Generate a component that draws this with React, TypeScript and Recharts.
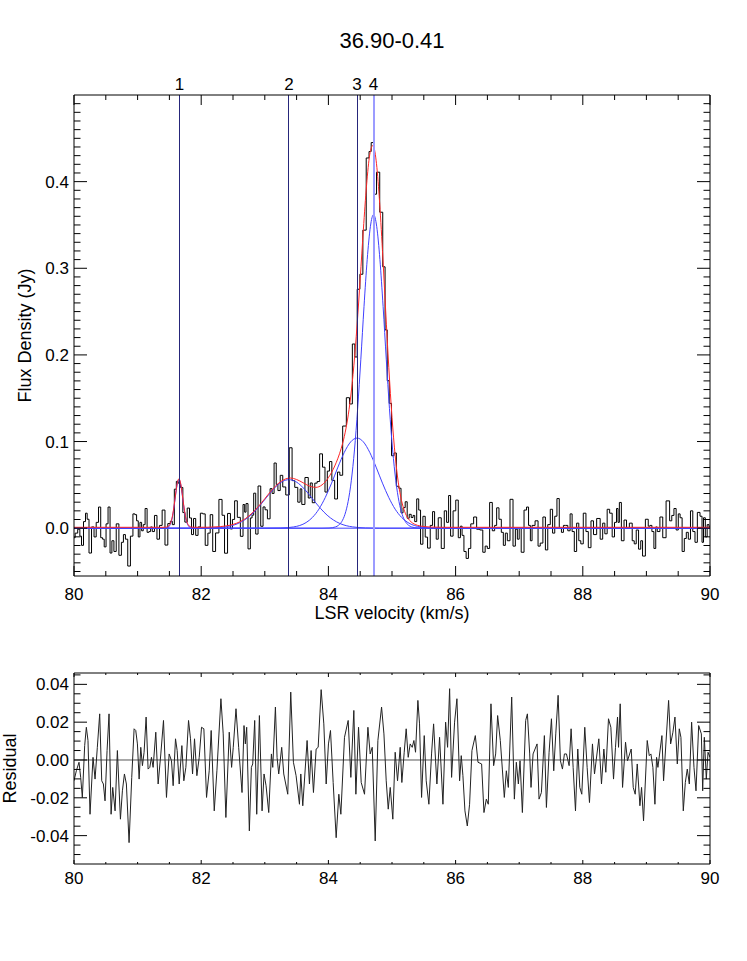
import { Line, LineChart, ReferenceLine, XAxis, YAxis } from "recharts";

const FONT = "'Liberation Sans', Arial, Helvetica, sans-serif";

// channel velocities (km/s), shared by the spectrum and the residual
const chanVel = [
  80.0, 80.037, 80.079, 80.105, 80.131, 80.168, 80.194, 80.22,
  80.252, 80.299, 80.331, 80.367, 80.404, 80.436, 80.462, 80.488,
  80.52, 80.551, 80.583, 80.609, 80.646, 80.682, 80.73, 80.761,
  80.793, 80.824, 80.866, 80.908, 80.945, 80.971, 80.997, 81.024,
  81.05, 81.076, 81.102, 81.134, 81.165, 81.192, 81.218, 81.244,
  81.286, 81.323, 81.365, 81.407, 81.454, 81.496, 81.533, 81.559,
  81.596, 81.622, 81.654, 81.696, 81.727, 81.759, 81.801, 81.832,
  81.864, 81.895, 81.932, 81.969, 82.005, 82.042, 82.084, 82.126,
  82.157, 82.205, 82.247, 82.31, 82.346, 82.388, 82.441, 82.478,
  82.504, 82.547, 82.589, 82.642, 82.673, 82.694, 82.715, 82.757,
  82.789, 82.81, 82.841, 82.873, 82.915, 82.957, 82.988, 83.02,
  83.062, 83.104, 83.125, 83.167, 83.193, 83.219, 83.266, 83.298,
  83.361, 83.408, 83.45, 83.492, 83.545, 83.566, 83.597, 83.665,
  83.702, 83.728, 83.765, 83.807, 83.839, 83.886, 83.928, 83.965,
  84.001, 84.033, 84.075, 84.122, 84.164, 84.196, 84.253, 84.311,
  84.353, 84.4, 84.432, 84.474, 84.516, 84.568, 84.621, 84.657,
  84.689, 84.736, 84.778, 84.836, 84.873, 84.909, 84.941, 84.972,
  85.013, 85.05, 85.087, 85.129, 85.155, 85.192, 85.223, 85.255,
  85.286, 85.318, 85.344, 85.37, 85.407, 85.433, 85.465, 85.507,
  85.538, 85.58, 85.622, 85.654, 85.685, 85.706, 85.748, 85.801,
  85.843, 85.874, 85.906, 85.937, 85.984, 86.021, 86.063, 86.089,
  86.115, 86.147, 86.184, 86.22, 86.257, 86.31, 86.352, 86.409,
  86.446, 86.483, 86.514, 86.556, 86.598, 86.63, 86.661, 86.703,
  86.735, 86.766, 86.798, 86.829, 86.882, 86.924, 86.955, 86.987,
  87.013, 87.05, 87.102, 87.129, 87.165, 87.186, 87.218, 87.281,
  87.312, 87.349, 87.396, 87.428, 87.47, 87.507, 87.543, 87.575,
  87.612, 87.648, 87.68, 87.711, 87.743, 87.785, 87.816, 87.848,
  87.885, 87.921, 87.953, 87.984, 88.031, 88.068, 88.105, 88.152,
  88.184, 88.252, 88.294, 88.331, 88.362, 88.404, 88.441, 88.483,
  88.514, 88.546, 88.562, 88.588, 88.625, 88.672, 88.703, 88.761,
  88.793, 88.824, 88.856, 88.898, 88.924, 88.955, 89.013, 89.045,
  89.071, 89.102, 89.134, 89.16, 89.181, 89.244, 89.27, 89.349,
  89.381, 89.417, 89.449, 89.486, 89.517, 89.543, 89.58, 89.612,
  89.643, 89.675, 89.711, 89.748, 89.78, 89.822, 89.864, 89.885,
  89.911, 89.942, 89.969, 90.0,
];

// observed flux density (Jy)
const specFlux = [
  -0.011, -0.0057, -0.0012, -0.0092, -0.0198, 0.0076, 0.0173, 0.0103,
  -0.0287, 0.0014, -0.0101, 0.0067, 0.0244, -0.011, -0.0127, -0.0216,
  0.005, 0.0244, -0.0287, -0.0145, -0.0269, 0.005, -0.0313, -0.0163,
  -0.0074, -0.0127, -0.0437, -0.0092, 0.0165, 0.0156, 0.0085, -0.0101,
  0.0067, -0.003, 0.0041, 0.0227, -0.0048, -0.0039, 0.0014, -0.0039,
  0.0147, -0.0127, 0.0032, 0.0209, -0.0195, 0.0053, 0.008, 0.0041,
  0.045, 0.054, 0.052, 0.047, 0.018, 0.007, 0.0232, 0.0118,
  -0.0074, 0.0112, -0.0083, 0.0014, 0.0173, 0.0165, -0.0198, -0.0057,
  0.0156, -0.0269, -0.0055, 0.0332, 0.0149, -0.0289, 0.017, -0.0009,
  0.0101, 0.0316, 0.0125, -0.0094, 0.0273, 0.0185, 0.0284, -0.0239,
  0.0118, 0.015, 0.0404, -0.0068, 0.0487, 0.0022, 0.0245, 0.0212,
  0.0108, 0.0456, 0.0401, 0.0752, 0.0505, 0.0434, 0.061, 0.0476,
  0.0383, 0.0928, 0.0549, 0.0471, 0.03, 0.0454, 0.0274, 0.0585,
  0.0348, 0.0522, 0.0294, 0.052, 0.0539, 0.0858, 0.0704, 0.0417,
  0.0659, 0.0769, 0.0552, 0.0337, 0.0647, 0.0611, 0.1179, 0.1506,
  0.1434, 0.2126, 0.1976, 0.2758, 0.2931, 0.344, 0.4273, 0.4348,
  0.4451, 0.3855, 0.4109, 0.3647, 0.3017, 0.2289, 0.1702, 0.1441,
  0.0836, 0.0868, 0.0484, 0.0461, 0.0177, 0.0237, 0.0305, 0.0115,
  0.016, 0.0123, 0.0147, 0.0076, 0.0338, 0.0209, -0.0185, 0.0137,
  -0.0103, -0.023, 0.0032, 0.0191, -0.0004, -0.0127, 0.012, -0.0234,
  0.02, 0.0067, 0.0377, -0.0092, 0.02, 0.0324, -0.011, 0.0023,
  -0.0083, -0.0269, -0.0349, -0.0234, 0.005, 0.0129, -0.0012, -0.0021,
  -0.0278, -0.0207, -0.0234, 0.0297, -0.003, 0.0032, 0.0235, 0.0103,
  -0.0048, -0.0198, -0.0057, -0.0145, 0.0333, -0.0207, -0.0012, -0.0127,
  -0.0004, -0.0278, 0.0209, 0.0244, 0.0032, -0.0145, 0.0032, 0.0085,
  -0.0207, -0.0172, 0.0129, -0.0251, 0.0041, 0.0218, -0.0057, 0.0138,
  0.0342, -0.0004, -0.0048, 0.0032, 0.0032, -0.003, 0.0165, -0.0039,
  -0.0269, 0.0058, -0.0145, -0.0181, 0.0173, -0.0039, -0.0225, 0.0085,
  -0.0074, 0.0112, -0.0127, 0.0058, -0.0065, 0.0218, 0.0173, -0.0101,
  0.0067, 0.0227, 0.0067, 0.0297, -0.0145, 0.0094, -0.0004, 0.0058,
  -0.0145, -0.0181, -0.0021, -0.0242, -0.0145, -0.0322, 0.0103, 0.0023,
  0.0032, -0.0039, -0.0234, 0.0014, -0.0039, 0.0129, -0.011, 0.0315,
  0.0085, 0.0147, 0.0227, -0.0021, 0.0165, 0.012, -0.0269, -0.0119,
  -0.0048, -0.0127, 0.02, -0.0039, -0.0163, 0.0182, 0.0138, -0.0163,
  0.012, -0.0101, 0.0041, 0.0014,
];

// residual after subtracting the fit (Jy)
const residFlux = [
  -0.011, -0.0057, -0.0012, -0.0092, -0.0198, 0.0076, 0.0173, 0.0103,
  -0.0287, 0.0014, -0.0101, 0.0067, 0.0244, -0.011, -0.0127, -0.0216,
  0.005, 0.0244, -0.0287, -0.0145, -0.0269, 0.005, -0.0313, -0.0163,
  -0.0074, -0.0127, -0.0437, -0.0092, 0.0165, 0.0156, 0.0085, -0.0101,
  0.0067, -0.003, 0.0041, 0.0227, -0.0048, -0.0039, 0.0014, -0.0039,
  0.0147, -0.0127, 0.0032, 0.0209, -0.0198, 0.0032, -0.0004, -0.0136,
  0.0112, 0.005, -0.0127, 0.0076, -0.011, -0.0039, 0.0209, 0.0112,
  -0.0074, 0.0112, -0.0083, 0.0014, 0.0173, 0.0165, -0.0198, -0.0057,
  0.0156, -0.0269, -0.0057, 0.0324, 0.0138, -0.0304, 0.0147, -0.0039,
  0.0067, 0.0271, 0.0067, -0.0172, 0.0182, 0.0085, 0.0173, -0.0375,
  -0.0039, -0.0021, 0.0209, -0.0287, 0.0235, -0.0269, -0.0074, -0.0136,
  -0.0278, 0.0032, -0.0039, 0.028, 0.0014, -0.0074, 0.0067, -0.0074,
  -0.0181, 0.0359, -0.0012, -0.0083, -0.0234, -0.0074, -0.0242, 0.0103,
  -0.0127, 0.005, -0.0172, 0.0058, 0.0067, 0.0372, 0.0191, -0.0127,
  0.0085, 0.0156, -0.0119, -0.0411, -0.0181, -0.0287, 0.012, 0.0209,
  -0.0092, 0.0262, -0.0181, 0.0173, -0.0119, -0.0181, 0.0173, 0.0032,
  0.0067, -0.0428, 0.0103, 0.028, 0.0138, -0.011, -0.026, -0.0145,
  -0.0313, 0.0041, -0.011, 0.0067, -0.0119, 0.0041, 0.0165, 0.0014,
  0.0085, 0.0067, 0.0103, 0.0041, 0.0315, 0.0191, -0.0198, 0.0129,
  -0.011, -0.0234, 0.0032, 0.0191, -0.0004, -0.0127, 0.012, -0.0234,
  0.02, 0.0067, 0.0377, -0.0092, 0.02, 0.0324, -0.011, 0.0023,
  -0.0083, -0.0269, -0.0349, -0.0234, 0.005, 0.0129, -0.0012, -0.0021,
  -0.0278, -0.0207, -0.0234, 0.0297, -0.003, 0.0032, 0.0235, 0.0103,
  -0.0048, -0.0198, -0.0057, -0.0145, 0.0333, -0.0207, -0.0012, -0.0127,
  -0.0004, -0.0278, 0.0209, 0.0244, 0.0032, -0.0145, 0.0032, 0.0085,
  -0.0207, -0.0172, 0.0129, -0.0251, 0.0041, 0.0218, -0.0057, 0.0138,
  0.0342, -0.0004, -0.0048, 0.0032, 0.0032, -0.003, 0.0165, -0.0039,
  -0.0269, 0.0058, -0.0145, -0.0181, 0.0173, -0.0039, -0.0225, 0.0085,
  -0.0074, 0.0112, -0.0127, 0.0058, -0.0065, 0.0218, 0.0173, -0.0101,
  0.0067, 0.0227, 0.0067, 0.0297, -0.0145, 0.0094, -0.0004, 0.0058,
  -0.0145, -0.0181, -0.0021, -0.0242, -0.0145, -0.0322, 0.0103, 0.0023,
  0.0032, -0.0039, -0.0234, 0.0014, -0.0039, 0.0129, -0.011, 0.0315,
  0.0085, 0.0147, 0.0227, -0.0021, 0.0165, 0.012, -0.0269, -0.0119,
  -0.0048, -0.0127, 0.02, -0.0039, -0.0163, 0.0182, 0.0138, -0.0163,
  0.012, -0.0101, 0.0041, 0.0014,
];

// total fit (red)
const fitVel = [
  80, 81.4, 81.45, 81.475, 81.5, 81.525, 81.55, 81.575, 81.6, 81.625, 81.65,
  81.675, 81.7, 81.725, 81.75, 81.775, 81.8, 81.825, 81.85, 81.9,
  82.1, 82.2, 82.3, 82.4, 82.5, 82.6, 82.7, 82.8, 82.9, 83.0, 83.1, 83.2,
  83.3, 83.4, 83.5, 83.6, 83.7, 83.8, 83.9, 84.0, 84.05, 84.1, 84.15, 84.2,
  84.25, 84.3, 84.35, 84.4, 84.45, 84.5, 84.55, 84.6, 84.65, 84.7, 84.75,
  84.8, 84.85, 84.9, 84.95, 85.0, 85.05, 85.1, 85.15, 85.2, 85.25, 85.3,
  85.4, 85.5, 85.6, 85.8, 90,
];
const fitFlux = [
  0.001, 0.001, 0.0012, 0.0018, 0.0035, 0.0074, 0.0149, 0.0266, 0.0406, 0.0524, 0.057,
  0.0524, 0.0406, 0.0266, 0.0149, 0.0074, 0.0035, 0.0018, 0.0012, 0.001,
  0.0011, 0.0014, 0.0018, 0.0027, 0.0043, 0.0071, 0.0113, 0.0174, 0.0251, 0.034, 0.0431, 0.0508,
  0.056, 0.0579, 0.0562, 0.0525, 0.0486, 0.0471, 0.05, 0.0583, 0.0644, 0.0718, 0.0808, 0.0917,
  0.1058, 0.1249, 0.1514, 0.1874, 0.2334, 0.2878, 0.3449, 0.3958, 0.4311, 0.4418, 0.4247,
  0.3817, 0.3206, 0.2517, 0.1852, 0.128, 0.0837, 0.0523, 0.0318, 0.019, 0.0115, 0.0073,
  0.0033, 0.0019, 0.0013, 0.001, 0.001,
];

// gaussian components (blue)
const comp1Vel = [
  80, 81.4, 81.45, 81.475, 81.5, 81.525, 81.55, 81.575, 81.6, 81.625, 81.65,
  81.675, 81.7, 81.725, 81.75, 81.775, 81.8, 81.825, 81.85, 81.9, 90,
];
const comp1Flux = [
  0, 0, 0.0002, 0.0008, 0.0025, 0.0064, 0.0139, 0.0256, 0.0396, 0.0514, 0.056,
  0.0514, 0.0396, 0.0256, 0.0139, 0.0064, 0.0025, 0.0008, 0.0002, 0, 0,
];
const comp2Vel = [
  80, 82.0, 82.18, 82.38, 82.48, 82.58, 82.68, 82.78, 82.88, 82.98, 83.08, 83.18, 83.28,
  83.38, 83.48, 83.58, 83.68, 83.78, 83.88, 83.98, 84.08, 84.18, 84.28, 84.38, 84.58, 84.8, 90,
];
const comp2Flux = [
  0, 0, 0.0003, 0.0015, 0.0029, 0.0054, 0.0094, 0.015, 0.0225, 0.0312, 0.0403, 0.0484, 0.054,
  0.056, 0.054, 0.0484, 0.0403, 0.0312, 0.0225, 0.015, 0.0094, 0.0054, 0.0029, 0.0015, 0.0003, 0, 0,
];
const comp3Vel = [
  80, 83.0, 83.25, 83.45, 83.55, 83.65, 83.75, 83.85, 83.95, 84.05, 84.15, 84.25, 84.35,
  84.45, 84.55, 84.65, 84.75, 84.85, 84.95, 85.05, 85.15, 85.25, 85.35, 85.45, 85.65, 85.9, 90,
];
const comp3Flux = [
  0, 0, 0.0002, 0.0014, 0.0031, 0.0065, 0.0125, 0.0219, 0.0353, 0.052, 0.0705, 0.0875, 0.0996,
  0.104, 0.0996, 0.0875, 0.0705, 0.052, 0.0353, 0.0219, 0.0125, 0.0065, 0.0031, 0.0014, 0.0002, 0, 0,
];
const comp4Vel = [
  80, 83.9, 84.01, 84.11, 84.16, 84.21, 84.26, 84.31, 84.36, 84.41, 84.46, 84.51, 84.56,
  84.61, 84.66, 84.71, 84.76, 84.81, 84.86, 84.91, 84.96, 85.01, 85.06, 85.11, 85.16,
  85.21, 85.26, 85.31, 85.41, 85.6, 90,
];
const comp4Flux = [
  0, 0, 0.0002, 0.0014, 0.0034, 0.0076, 0.0159, 0.0307, 0.0547, 0.0903, 0.138, 0.195, 0.256,
  0.31, 0.348, 0.362, 0.348, 0.31, 0.256, 0.195, 0.138, 0.0903, 0.0547, 0.0307, 0.0159,
  0.0076, 0.0034, 0.0014, 0.0002, 0, 0,
];

// component centres and their labels
const compCentres = [81.66, 83.38, 84.45, 84.71];
const compLabels = ["1", "2", "3", "4"];

const velTicks = [
  80, 80.5, 81, 81.5, 82, 82.5, 83, 83.5, 84, 84.5, 85, 85.5, 86, 86.5, 87, 87.5, 88, 88.5, 89, 89.5, 90,
];
const fluxTicks = [
  -0.05, -0.04, -0.03, -0.02, -0.01, 0, 0.01, 0.02, 0.03, 0.04, 0.05, 0.06, 0.07, 0.08, 0.09,
  0.1, 0.11, 0.12, 0.13, 0.14, 0.15, 0.16, 0.17, 0.18, 0.19, 0.2, 0.21, 0.22, 0.23, 0.24,
  0.25, 0.26, 0.27, 0.28, 0.29, 0.3, 0.31, 0.32, 0.33, 0.34, 0.35, 0.36, 0.37, 0.38, 0.39,
  0.4, 0.41, 0.42, 0.43, 0.44, 0.45, 0.46, 0.47, 0.48, 0.49,
];
const residTicks = [
  -0.05, -0.045, -0.04, -0.035, -0.03, -0.025, -0.02, -0.015, -0.01, -0.005, 0,
  0.005, 0.01, 0.015, 0.02, 0.025, 0.03, 0.035, 0.04, 0.045,
];

const rows = (xs: number[], ys: number[]) => xs.map((v, i) => ({ v, y: ys[i] }));

const specRows = rows(chanVel, specFlux);
const residRows = rows(chanVel, residFlux);
const fitRows = rows(fitVel, fitFlux);
const compRows = [
  rows(comp1Vel, comp1Flux),
  rows(comp2Vel, comp2Flux),
  rows(comp3Vel, comp3Flux),
  rows(comp4Vel, comp4Flux),
];

const isMultiple = (v: number, step: number) => Math.abs(v / step - Math.round(v / step)) < 1e-6;

// inward tick marks on a horizontal axis; labels only on the bottom one
function xTick(dir: 1 | -1, majorLen: number, minorLen: number, labelDy: number | null) {
  return (p: any) => {
    const v = p.payload.value as number;
    const major = isMultiple(v, 2);
    const len = major ? majorLen : minorLen;
    return (
      <g>
        <line x1={p.x} x2={p.x} y1={p.y} y2={p.y + dir * len} stroke="#000" strokeWidth={1} />
        {labelDy !== null && major ? (
          <text x={p.x} y={p.y + labelDy} textAnchor="middle" fontSize={17} fontFamily={FONT} fill="#000">
            {v}
          </text>
        ) : null}
      </g>
    );
  };
}

// inward tick marks on a vertical axis; labels only on the left one
function yTick(dir: 1 | -1, majorStep: number, digits: number, majorLen: number, minorLen: number, label: boolean) {
  return (p: any) => {
    const v = p.payload.value as number;
    const major = isMultiple(v, majorStep);
    const len = major ? majorLen : minorLen;
    return (
      <g>
        <line x1={p.x} x2={p.x + dir * len} y1={p.y} y2={p.y} stroke="#000" strokeWidth={1} />
        {label && major ? (
          <text x={p.x - 5} y={p.y + 6} textAnchor="end" fontSize={17} fontFamily={FONT} fill="#000">
            {v.toFixed(digits)}
          </text>
        ) : null}
      </g>
    );
  };
}

const axisLine = { stroke: "#000", strokeWidth: 1 };

function SpectrumPanel() {
  return (
    <LineChart width={747} height={640} margin={{ top: 85, right: 27, bottom: 18, left: 4 }}>
      <XAxis
        xAxisId="b"
        type="number"
        dataKey="v"
        domain={[80, 90]}
        ticks={velTicks}
        interval={0}
        allowDataOverflow
        height={46}
        tickSize={0}
        tickMargin={0}
        tickLine={false}
        axisLine={axisLine}
        tick={xTick(-1, 10, 5, 24)}
        label={{ value: "LSR velocity (km/s)", position: "insideBottom", offset: 3, fontSize: 18, fontFamily: FONT, fill: "#000" }}
      />
      <XAxis
        xAxisId="t"
        orientation="top"
        type="number"
        dataKey="v"
        domain={[80, 90]}
        ticks={velTicks}
        interval={0}
        allowDataOverflow
        height={10}
        tickSize={0}
        tickMargin={0}
        tickLine={false}
        axisLine={axisLine}
        tick={xTick(1, 10, 5, null)}
        label={{ value: "36.90-0.41", position: "top", offset: 37, fontSize: 22, fontFamily: FONT, fill: "#000" }}
      />
      <YAxis
        yAxisId="l"
        type="number"
        domain={[-0.0552, 0.5]}
        ticks={fluxTicks}
        interval={0}
        allowDataOverflow
        width={70}
        tickSize={0}
        tickMargin={0}
        tickLine={false}
        axisLine={axisLine}
        tick={yTick(1, 0.1, 1, 13, 6.5, true)}
        label={{
          value: "Flux Density (Jy)",
          angle: -90,
          position: "insideLeft",
          offset: 21,
          fontSize: 18,
          fontFamily: FONT,
          fill: "#000",
          style: { textAnchor: "middle" },
        }}
      />
      <YAxis
        yAxisId="r"
        orientation="right"
        type="number"
        domain={[-0.0552, 0.5]}
        ticks={fluxTicks}
        interval={0}
        allowDataOverflow
        width={10}
        tickSize={0}
        tickMargin={0}
        tickLine={false}
        axisLine={axisLine}
        tick={yTick(-1, 0.1, 1, 13, 6.5, false)}
      />
      <Line
        xAxisId="b"
        yAxisId="l"
        data={specRows}
        dataKey="y"
        type="step"
        stroke="#000"
        strokeWidth={1}
        dot={false}
        activeDot={false}
        isAnimationActive={false}
      />
      {compRows.map((d, i) => (
        <Line
          key={`comp-${i}`}
          xAxisId="b"
          yAxisId="l"
          data={d}
          dataKey="y"
          type="monotone"
          stroke="#4040ff"
          strokeWidth={1}
          dot={false}
          activeDot={false}
          isAnimationActive={false}
        />
      ))}
      <Line
        xAxisId="b"
        yAxisId="l"
        data={fitRows}
        dataKey="y"
        type="monotone"
        stroke="#ff2626"
        strokeWidth={1}
        dot={false}
        activeDot={false}
        isAnimationActive={false}
      />
      {compCentres.map((c, i) => (
        <ReferenceLine
          key={`centre-${i}`}
          xAxisId="b"
          yAxisId="l"
          x={c}
          stroke={i === 3 ? "#9c9cff" : "#26267a"}
          strokeWidth={i === 3 ? 2 : 1}
          shapeRendering="crispEdges"
          label={{ value: compLabels[i], position: "top", offset: 5, fontSize: 17, fontFamily: FONT, fill: "#000" }}
        />
      ))}
    </LineChart>
  );
}

function ResidualPanel() {
  return (
    <LineChart width={747} height={321} margin={{ top: 23, right: 27, bottom: 57, left: 4 }}>
      <XAxis
        xAxisId="b"
        type="number"
        dataKey="v"
        domain={[80, 90]}
        ticks={velTicks}
        interval={0}
        allowDataOverflow
        height={40}
        tickSize={0}
        tickMargin={0}
        tickLine={false}
        axisLine={axisLine}
        tick={xTick(-1, 4, 2, 20)}
      />
      <XAxis
        xAxisId="t"
        orientation="top"
        type="number"
        dataKey="v"
        domain={[80, 90]}
        ticks={velTicks}
        interval={0}
        allowDataOverflow
        height={10}
        tickSize={0}
        tickMargin={0}
        tickLine={false}
        axisLine={axisLine}
        tick={xTick(1, 4, 2, null)}
      />
      <YAxis
        yAxisId="l"
        type="number"
        domain={[-0.055, 0.046]}
        ticks={residTicks}
        interval={0}
        allowDataOverflow
        width={70}
        tickSize={0}
        tickMargin={0}
        tickLine={false}
        axisLine={axisLine}
        tick={yTick(1, 0.02, 2, 13, 6.5, true)}
        label={{
          value: "Residual",
          angle: -90,
          position: "insideLeft",
          offset: 6,
          fontSize: 18,
          fontFamily: FONT,
          fill: "#000",
          style: { textAnchor: "middle" },
        }}
      />
      <YAxis
        yAxisId="r"
        orientation="right"
        type="number"
        domain={[-0.055, 0.046]}
        ticks={residTicks}
        interval={0}
        allowDataOverflow
        width={10}
        tickSize={0}
        tickMargin={0}
        tickLine={false}
        axisLine={axisLine}
        tick={yTick(-1, 0.02, 2, 13, 6.5, false)}
      />
      <ReferenceLine xAxisId="b" yAxisId="l" y={0} stroke="#555" strokeWidth={1} />
      <Line
        xAxisId="b"
        yAxisId="l"
        data={residRows}
        dataKey="y"
        type="linear"
        stroke="#222"
        strokeWidth={1}
        dot={false}
        activeDot={false}
        isAnimationActive={false}
      />
    </LineChart>
  );
}

export default function App() {
  return (
    <div style={{ position: "absolute", left: 0, top: 0, width: 747, height: 961, background: "#fff" }}>
      <div style={{ position: "absolute", left: 0, top: 0 }}>
        <SpectrumPanel />
      </div>
      <div style={{ position: "absolute", left: 0, top: 640 }}>
        <ResidualPanel />
      </div>
    </div>
  );
}
